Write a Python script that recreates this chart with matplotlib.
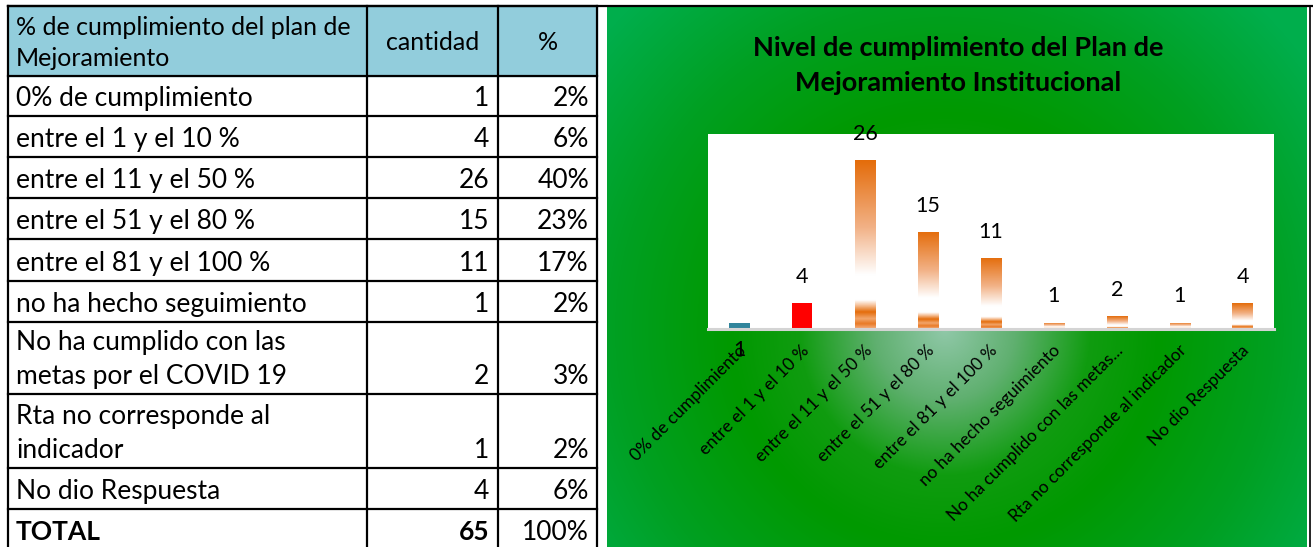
import numpy as np
import matplotlib
matplotlib.use("Agg")
import matplotlib.pyplot as plt
from matplotlib.colors import LinearSegmentedColormap
from matplotlib.patches import Rectangle

plt.rcParams['font.family'] = ['Lato', 'DejaVu Sans']

# datos de la tabla y del grafico
filas_tabla = [
    "0% de cumplimiento",
    "entre el 1 y el 10 %",
    "entre el 11 y el 50 %",
    "entre el 51 y el 80 %",
    "entre el 81 y el 100 %",
    "no ha hecho seguimiento",
    "No ha cumplido con las\nmetas por el COVID 19",
    "Rta no corresponde al\nindicador",
    "No dio Respuesta",
]
categorias = [
    "0% de cumplimiento",
    "entre el 1 y el 10 %",
    "entre el 11 y el 50 %",
    "entre el 51 y el 80 %",
    "entre el 81 y el 100 %",
    "no ha hecho seguimiento",
    "No ha cumplido con las metas...",
    "Rta no corresponde al indicador",
    "No dio Respuesta",
]
cantidad = [1, 4, 26, 15, 11, 1, 2, 1, 4]
porcentaje = ["2%", "6%", "40%", "23%", "17%", "2%", "3%", "2%", "6%"]
total_cantidad = 65
total_pct = "100%"

W, H = 1313, 547
fig = plt.figure(figsize=(W / 100, H / 100), dpi=100)
fig.patch.set_facecolor("white")

# capa de fondo en pixeles
bg = fig.add_axes([0, 0, 1, 1])
bg.set_xlim(0, W)
bg.set_ylim(H, 0)
bg.axis("off")

# ---- tabla ----
col_x = [8, 367, 498, 597]
fila_y = [6, 76, 116, 157, 198, 239, 281, 322, 394, 468, 509, 550]
bg.add_patch(Rectangle((col_x[0], fila_y[0]), col_x[-1] - col_x[0],
                       fila_y[1] - fila_y[0], color="#92CDDC", zorder=1))
for x in col_x:
    bg.plot([x, x], [fila_y[0], fila_y[-1]], color="black", lw=1.6, zorder=3)
for y in fila_y:
    bg.plot([col_x[0], col_x[-1]], [y, y], color="black", lw=1.6, zorder=3)

fs_tabla = 19
fs_cab = 18
bg.text(16, 35, "% de cumplimiento del plan de", fontsize=fs_cab, va="baseline")
bg.text(16, 66, "Mejoramiento", fontsize=fs_cab, va="baseline")
bg.text((col_x[1] + col_x[2]) / 2, 42, "cantidad", fontsize=fs_cab,
        ha="center", va="center")
bg.text((col_x[2] + col_x[3]) / 2, 42, "%", fontsize=fs_cab,
        ha="center", va="center")

filas = filas_tabla + ["TOTAL"]
cants = [str(c) for c in cantidad] + [str(total_cantidad)]
pcts = porcentaje + [total_pct]
for i, (fila, c, p) in enumerate(zip(filas, cants, pcts)):
    base = fila_y[i + 2] - 10
    peso = "bold" if fila == "TOTAL" else "normal"
    for k, linea in enumerate(reversed(fila.split("\n"))):
        bg.text(16, base - 34 * k, linea, fontsize=fs_tabla, va="baseline",
                weight=peso)
    bg.text(489, base, c, fontsize=fs_tabla, ha="right", va="baseline",
            weight=peso)
    bg.text(589, base, p, fontsize=fs_tabla, ha="right", va="baseline")

# ---- panel verde con degradado radial ----
px0, px1, py0, py1 = 607, 1307, 7, 547
xs = np.arange(px0, px1) + 0.5
ys = np.arange(py0, py1) + 0.5
X, Y = np.meshgrid(xs, ys)
r = np.hypot(X - 945, Y - 330)
paradas = [0, 70, 145, 215, 330, 450, 600]
tonos = np.array([
    [0x90, 0xC8, 0xA8],
    [0x60, 0xB0, 0x70],
    [0x10, 0x9C, 0x10],
    [0x00, 0x99, 0x00],
    [0x00, 0xA0, 0x22],
    [0x00, 0xAE, 0x4C],
    [0x00, 0xB0, 0x50],
]) / 255.0
img = np.dstack([np.interp(r, paradas, tonos[:, c]) for c in range(3)])
bg.imshow(img, extent=(px0, px1, py1, py0), origin="upper",
          interpolation="bilinear", aspect="auto", zorder=0)
bg.set_xlim(0, W)
bg.set_ylim(H, 0)
bg.plot([col_x[0], W], [6, 6], color="black", lw=1.6, zorder=3)
bg.plot([1310, 1310], [6, H], color="black", lw=1.2, zorder=3)

bg.text(958, 48, "Nivel de cumplimiento del Plan de", fontsize=19.5,
        weight="bold", ha="center", va="center", zorder=4)
bg.text(958, 83, "Mejoramiento Institucional", fontsize=19.5,
        weight="bold", ha="center", va="center", zorder=4)

# ---- grafico de barras ----
ax = fig.add_axes([708 / W, 1 - 329 / H, 566 / W, 195 / H])
ax.set_facecolor("white")
for s in ["top", "left", "right"]:
    ax.spines[s].set_visible(False)
ax.spines["bottom"].set_color("#D4D4D4")
ax.spines["bottom"].set_linewidth(2.2)
ax.set_xticks([])
ax.set_yticks([])

naranja = LinearSegmentedColormap.from_list("naranja", [
    (0.0, "#F4B183"), (0.03, "#E97A26"), (0.06, "#F2A66C"),
    (0.10, "#E46C0A"), (0.14, "#F6C39C"), (0.17, "#FFFFFF"),
    (0.32, "#FFFFFF"), (0.60, "#F2B287"), (1.0, "#E46C0A"),
])
grad = np.linspace(0, 1, 256).reshape(-1, 1)

ancho = 0.32
pos = np.arange(len(cantidad))
barras = ax.bar(pos, cantidad, width=ancho, color="none", zorder=2)
for i, (b, v) in enumerate(zip(barras, cantidad)):
    if i == 0:
        b.set_facecolor("#31859C")
    elif i == 1:
        b.set_facecolor("#FF0000")
    else:
        im = ax.imshow(grad, extent=(i - ancho / 2, i + ancho / 2, 0, v),
                       origin="lower", cmap=naranja, aspect="auto",
                       interpolation="bilinear", zorder=2)
        im.set_clip_path(b)
    dy = -21 if i == 0 else 26
    ax.annotate(str(v), (i, v if i else 0), xytext=(0, dy),
                textcoords="offset pixels", ha="center", va="center",
                fontsize=15.5, annotation_clip=False, zorder=5)

ax.set_xlim(-0.5, len(cantidad) - 0.5)
ax.set_ylim(0, 30)

for i, lab in enumerate(categorias):
    ax.annotate(lab, (i, 0), xytext=(4, -19), textcoords="offset pixels",
                rotation=45, rotation_mode="anchor", ha="right", va="center",
                fontsize=12.5, annotation_clip=False)

fig.savefig("out.png", dpi=100)
